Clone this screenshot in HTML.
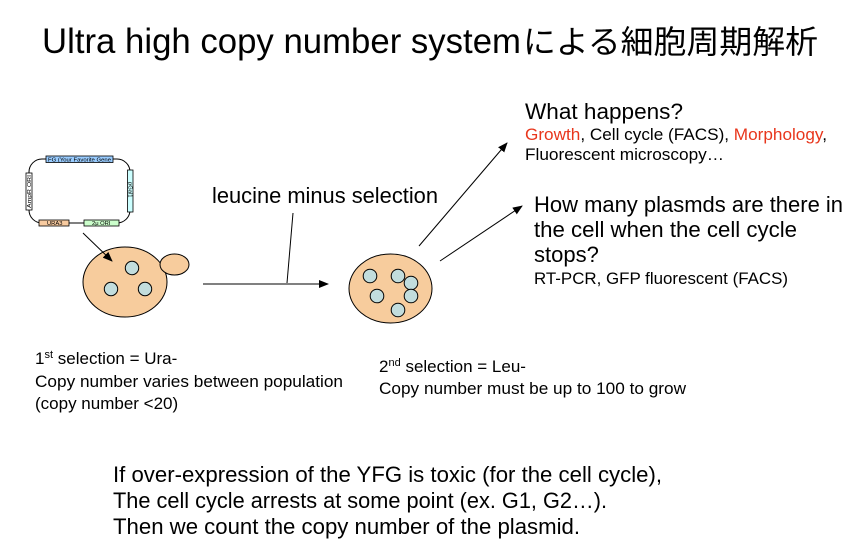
<!DOCTYPE html>
<html>
<head>
<meta charset="utf-8">
<style>
  html,body{margin:0;padding:0;background:#fff;}
  body{width:864px;height:558px;overflow:hidden;}
  svg{display:block;}
  text{font-family:"Liberation Sans","Noto Sans CJK JP",sans-serif;fill:#000;}
  .cjk{font-family:"Liberation Sans","Noto Sans CJK JP",sans-serif;}
</style>
</head>
<body>
<svg width="864" height="558" viewBox="0 0 864 558" xmlns="http://www.w3.org/2000/svg">
  <defs>
    <marker id="ah" markerWidth="10" markerHeight="8" refX="9" refY="4" orient="auto" markerUnits="userSpaceOnUse">
      <path d="M0,0 L10,4 L0,8 Z" fill="#000"/>
    </marker>
  </defs>

  <!-- Title -->
  <text x="42" y="53" font-size="35" textLength="479" lengthAdjust="spacingAndGlyphs">Ultra high copy number system</text>
  <text x="523" y="53" font-size="32" class="cjk" textLength="295" lengthAdjust="spacingAndGlyphs">による細胞周期解析</text>

  <!-- Plasmid -->
  <rect x="29" y="159" width="101" height="64" rx="13" ry="13" fill="none" stroke="#000" stroke-width="1"/>
  <rect x="46" y="156" width="67" height="6.5" fill="#99ccff" stroke="#000" stroke-width="0.8"/>
  <text x="48" y="161.3" font-size="5.8" textLength="63" lengthAdjust="spacingAndGlyphs">FG (Your Favorite Gene</text>
  <rect x="26" y="173" width="6" height="37" fill="#fff" stroke="#000" stroke-width="0.8"/>
  <text transform="translate(31,208) rotate(-90)" font-size="5.8" textLength="33" lengthAdjust="spacingAndGlyphs">AmpR   ORI</text>
  <rect x="127.5" y="170" width="5.5" height="42" fill="#ccffff" stroke="#000" stroke-width="0.8"/>
  <text transform="translate(128.5,182) rotate(90)" font-size="5.8">pGal1</text>
  <rect x="39" y="220" width="30" height="6" fill="#f8cba0" stroke="#000" stroke-width="0.8"/>
  <text x="47" y="225.2" font-size="5.8">URA3</text>
  <rect x="84" y="220" width="35" height="6" fill="#ccffcc" stroke="#000" stroke-width="0.8"/>
  <text x="92" y="225.2" font-size="5.8">2μ ORI</text>

  <!-- Cell 1 -->
  <ellipse cx="125" cy="282" rx="42" ry="35" fill="#f7cc9d" stroke="#000" stroke-width="1"/>
  <ellipse cx="174.5" cy="264.5" rx="14.5" ry="10.5" fill="#f7cc9d" stroke="#000" stroke-width="1"/>
  <circle cx="132" cy="268" r="6.7" fill="#c2dddd" stroke="#000" stroke-width="1"/>
  <circle cx="111" cy="289" r="6.7" fill="#c2dddd" stroke="#000" stroke-width="1"/>
  <circle cx="145" cy="289" r="6.7" fill="#c2dddd" stroke="#000" stroke-width="1"/>

  <!-- Arrow plasmid -> cell (drawn on top of cell) -->
  <line x1="83" y1="233" x2="112" y2="261" stroke="#000" stroke-width="1" marker-end="url(#ah)"/>

  <!-- Horizontal arrow and label -->
  <line x1="203" y1="284" x2="328" y2="284" stroke="#000" stroke-width="1" marker-end="url(#ah)"/>
  <line x1="287" y1="283" x2="293" y2="213" stroke="#000" stroke-width="1"/>
  <text x="212" y="203" font-size="22" textLength="226" lengthAdjust="spacingAndGlyphs">leucine minus selection</text>

  <!-- Cell 2 -->
  <ellipse cx="390.5" cy="288.5" rx="41.5" ry="34.5" fill="#f7cc9d" stroke="#000" stroke-width="1"/>
  <circle cx="370" cy="276" r="6.8" fill="#c2dddd" stroke="#000" stroke-width="1"/>
  <circle cx="398" cy="276" r="6.8" fill="#c2dddd" stroke="#000" stroke-width="1"/>
  <circle cx="411" cy="283" r="6.8" fill="#c2dddd" stroke="#000" stroke-width="1"/>
  <circle cx="377" cy="296" r="6.8" fill="#c2dddd" stroke="#000" stroke-width="1"/>
  <circle cx="411" cy="296" r="6.8" fill="#c2dddd" stroke="#000" stroke-width="1"/>
  <circle cx="398" cy="310" r="6.8" fill="#c2dddd" stroke="#000" stroke-width="1"/>

  <!-- Diagonal arrows -->
  <line x1="419" y1="246" x2="507" y2="143" stroke="#000" stroke-width="1" marker-end="url(#ah)"/>
  <line x1="440" y1="261" x2="522" y2="206" stroke="#000" stroke-width="1" marker-end="url(#ah)"/>

  <!-- What happens -->
  <text x="525" y="119" font-size="22" textLength="158" lengthAdjust="spacingAndGlyphs">What happens?</text>
  <text x="525" y="140" font-size="16.8" textLength="302" lengthAdjust="spacingAndGlyphs"><tspan fill="#e8361c">Growth</tspan>, Cell cycle (FACS), <tspan fill="#e8361c">Morphology</tspan>,</text>
  <text x="525" y="160" font-size="16.8" textLength="199" lengthAdjust="spacingAndGlyphs">Fluorescent microscopy…</text>

  <!-- How many -->
  <text x="534" y="212" font-size="22" textLength="309" lengthAdjust="spacingAndGlyphs">How many plasmds are there in</text>
  <text x="534" y="237" font-size="22" textLength="263" lengthAdjust="spacingAndGlyphs">the cell when the cell cycle</text>
  <text x="534" y="262" font-size="22">stops?</text>
  <text x="534" y="284" font-size="16.6" textLength="254" lengthAdjust="spacingAndGlyphs">RT-PCR, GFP fluorescent (FACS)</text>

  <!-- 1st selection -->
  <text x="35" y="364" font-size="17">1<tspan font-size="11" dy="-6">st</tspan><tspan dy="6"> selection = Ura-</tspan></text>
  <text x="35" y="387" font-size="17" textLength="308" lengthAdjust="spacingAndGlyphs">Copy number varies between population</text>
  <text x="35" y="409" font-size="17">(copy number &lt;20)</text>

  <!-- 2nd selection -->
  <text x="379" y="372" font-size="17">2<tspan font-size="11" dy="-6">nd</tspan><tspan dy="6"> selection = Leu-</tspan></text>
  <text x="379" y="394" font-size="17" textLength="307" lengthAdjust="spacingAndGlyphs">Copy number must be up to 100 to grow</text>

  <!-- Bottom text -->
  <text x="113" y="482" font-size="22" textLength="549" lengthAdjust="spacingAndGlyphs">If over-expression of the YFG is toxic (for the cell cycle),</text>
  <text x="113" y="508" font-size="22" textLength="494" lengthAdjust="spacingAndGlyphs">The cell cycle arrests at some point (ex. G1, G2…).</text>
  <text x="113" y="534" font-size="22" textLength="467" lengthAdjust="spacingAndGlyphs">Then we count the copy number of the plasmid.</text>
</svg>
</body>
</html>
